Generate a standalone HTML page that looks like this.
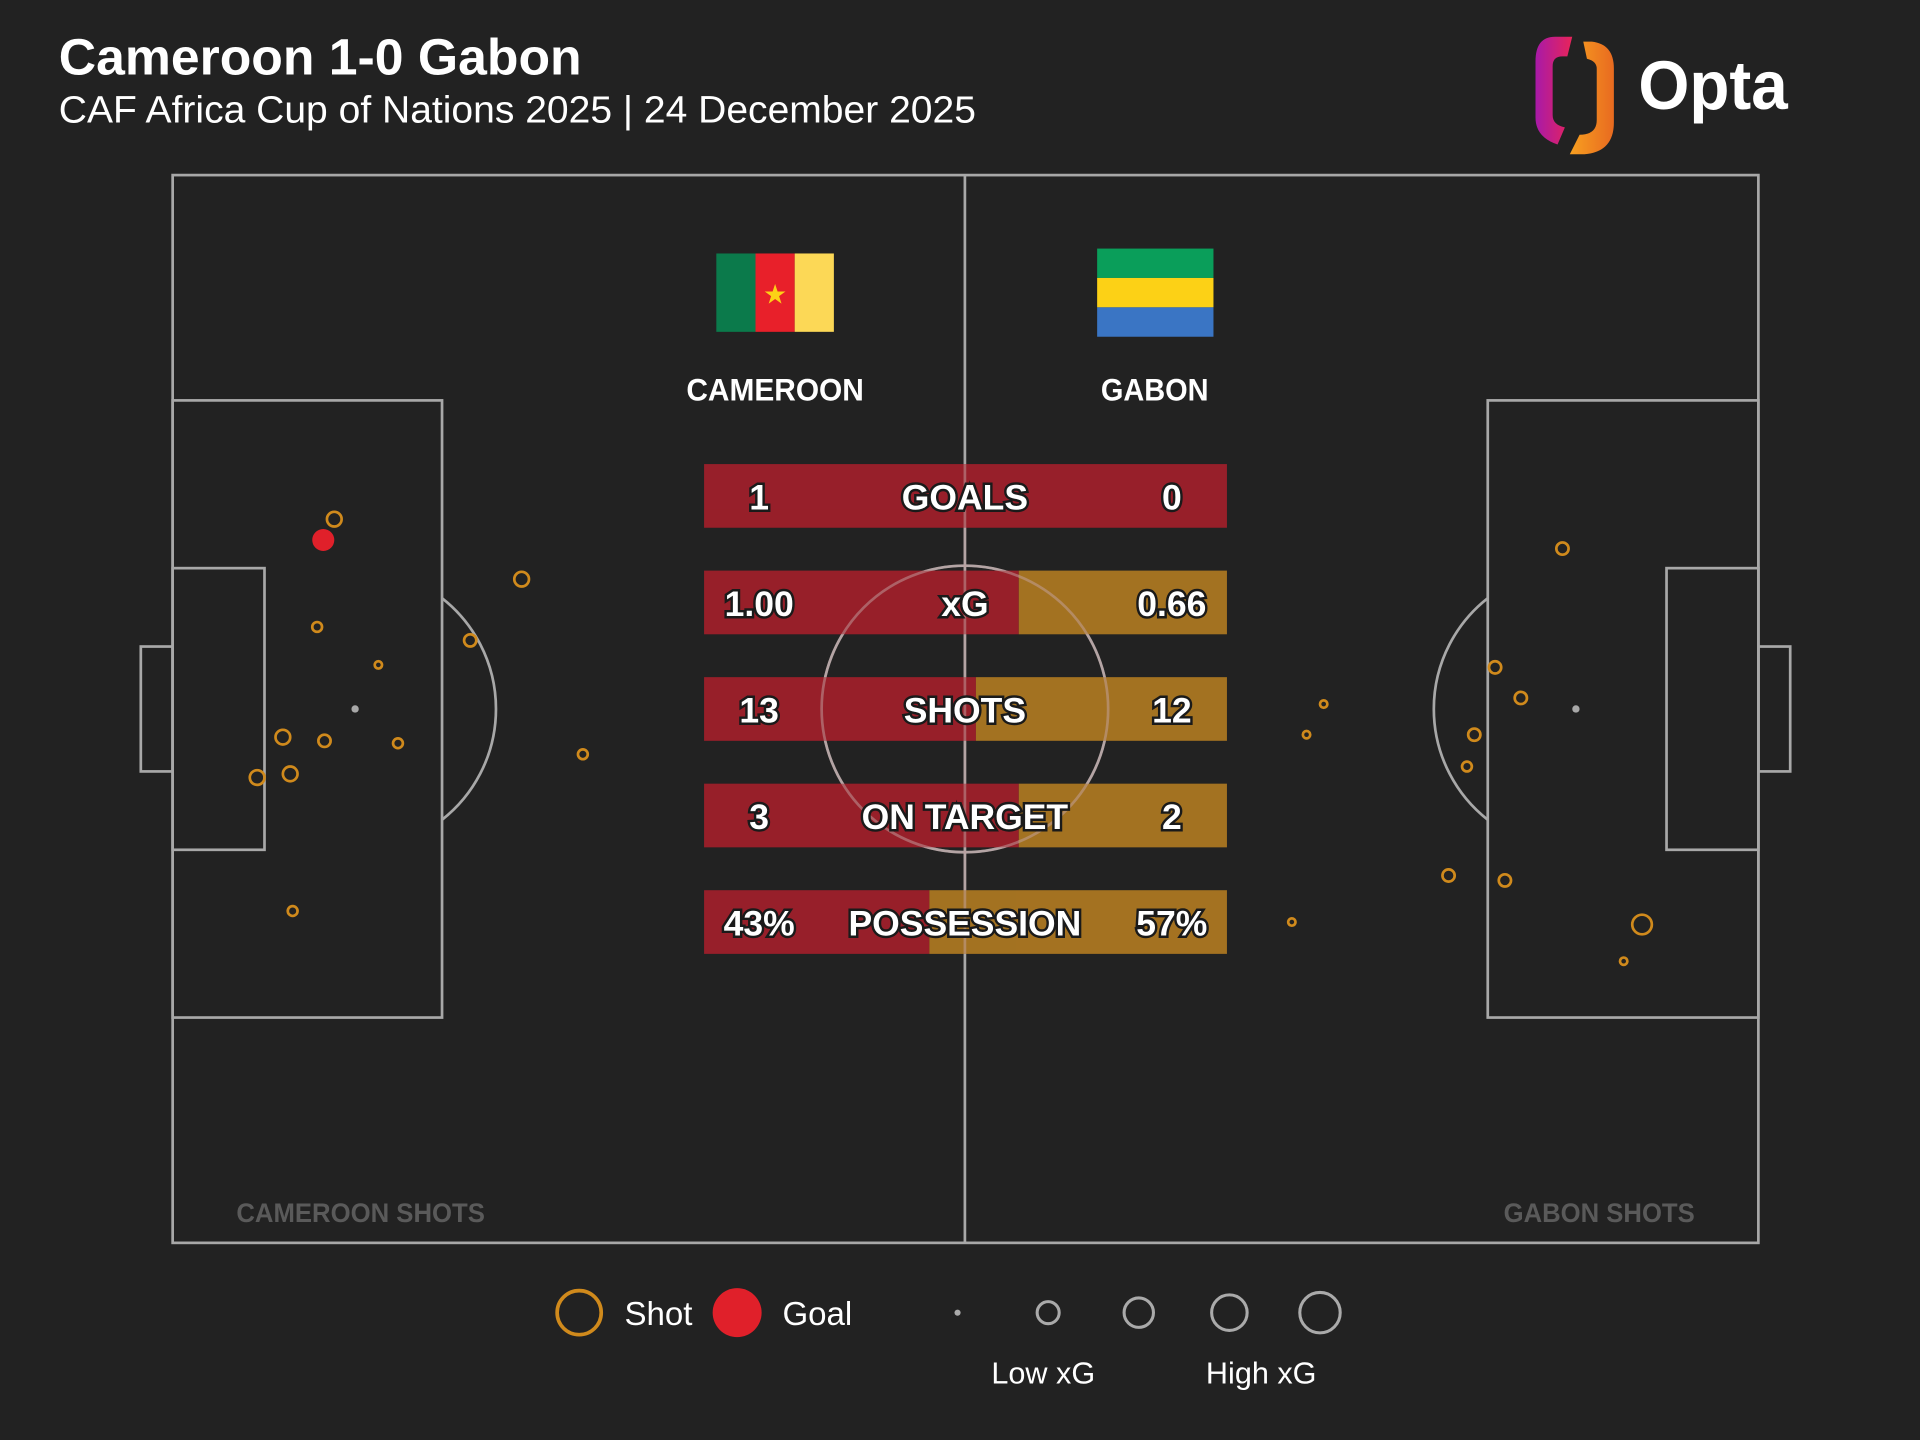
<!DOCTYPE html>
<html><head><meta charset="utf-8"><style>
html,body{margin:0;padding:0;background:#222222;}
svg{display:block}
text{font-family:"Liberation Sans",sans-serif;}
.st{font-size:29px;font-weight:bold;fill:#fff;stroke:#1a1a1a;stroke-width:4px;paint-order:stroke;text-anchor:middle;}
</style></head><body>
<svg width="1920" height="1440" viewBox="0 0 1568 1176" xmlns="http://www.w3.org/2000/svg">
<rect width="1568" height="1176" fill="#222222"/>
<text x="48" y="61" font-size="42" font-weight="bold" fill="#fff" textLength="427" lengthAdjust="spacingAndGlyphs">Cameroon 1-0 Gabon</text>
<text x="48" y="100" font-size="31" fill="#fff" textLength="749" lengthAdjust="spacingAndGlyphs">CAF Africa Cup of Nations 2025 | 24 December 2025</text>
<defs>
<linearGradient id="g1" x1="0" x2="1"><stop offset="0" stop-color="#a81aa8"/><stop offset="1" stop-color="#e8245a"/></linearGradient>
<linearGradient id="g2" x1="0" x2="1"><stop offset="0" stop-color="#f8a020"/><stop offset="1" stop-color="#e86a20"/></linearGradient>
</defs>
<path d="M1284 30 L1270 30 Q1254 30 1254 50 L1254 96 Q1254 112 1272 118 L1278 104 Q1268 102 1268 94 L1268 54 Q1268 46 1276 46 L1280 46 Z" fill="url(#g1)"/>
<path d="M1293 34 L1300 34 Q1318 36 1318 56 L1318 100 Q1318 124 1294 126 L1282 126 L1290 110 Q1304 110 1304 98 L1304 56 Q1304 50 1296 48 Z" fill="url(#g2)"/>
<text x="1338" y="89" font-size="56" font-weight="bold" fill="#fff" textLength="122" lengthAdjust="spacingAndGlyphs">Opta</text>
<g fill="none" stroke="#a8a8a8" stroke-width="2.2">
<rect x="141" y="143" width="1295" height="872"/>
<line x1="788" y1="143" x2="788" y2="1015"/>
<circle cx="788" cy="579" r="117"/>
<rect x="141" y="327" width="220" height="504"/>
<rect x="141" y="464" width="75" height="230"/>
<rect x="115" y="528" width="26" height="102"/>
<path d="M361 488.5 A115 115 0 0 1 361 669.5"/>
<rect x="1215" y="327" width="221" height="504"/>
<rect x="1361" y="464" width="75" height="230"/>
<rect x="1436" y="528" width="26" height="102"/>
<path d="M1215 488.5 A115 115 0 0 0 1215 669.5"/>
</g>
<circle cx="290" cy="579" r="3" fill="#a8a8a8"/>
<circle cx="1287" cy="579" r="3" fill="#a8a8a8"/>
<rect x="585" y="207" width="32" height="64" fill="#0b7a4b"/>
<rect x="617" y="207" width="32" height="64" fill="#e8202a"/>
<rect x="649" y="207" width="32" height="64" fill="#fcd856"/>
<text x="633" y="248" font-size="22" fill="#fcd116" text-anchor="middle">★</text>
<rect x="896" y="203" width="95" height="24" fill="#0a9e5a"/>
<rect x="896" y="227" width="95" height="24" fill="#fcd116"/>
<rect x="896" y="251" width="95" height="24" fill="#3a75c4"/>
<text x="633" y="327" font-size="26" font-weight="bold" fill="#fff" text-anchor="middle" textLength="145" lengthAdjust="spacingAndGlyphs">CAMEROON</text>
<text x="943" y="327" font-size="26" font-weight="bold" fill="#fff" text-anchor="middle" textLength="88" lengthAdjust="spacingAndGlyphs">GABON</text>
<g opacity="0.97">
<rect x="575" y="379" width="427" height="52" fill="#9b1f2a"/>
<rect x="575" y="466" width="257" height="52" fill="#9b1f2a"/><rect x="832" y="466" width="170" height="52" fill="#a87521"/>
<rect x="575" y="553" width="222" height="52" fill="#9b1f2a"/><rect x="797" y="553" width="205" height="52" fill="#a87521"/>
<rect x="575" y="640" width="257" height="52" fill="#9b1f2a"/><rect x="832" y="640" width="170" height="52" fill="#a87521"/>
<rect x="575" y="727" width="184" height="52" fill="#9b1f2a"/><rect x="759" y="727" width="243" height="52" fill="#a87521"/>
</g>
<g fill="none" stroke="#c0a0a0" stroke-opacity="0.5" stroke-width="2.2">
<line x1="788" y1="379" x2="788" y2="779"/>
<circle cx="788" cy="579" r="117"/>
</g>
<text class="st" x="620" y="416">1</text><text class="st" x="788" y="416">GOALS</text><text class="st" x="957" y="416">0</text>
<text class="st" x="620" y="503">1.00</text><text class="st" x="788" y="503">xG</text><text class="st" x="957" y="503">0.66</text>
<text class="st" x="620" y="590">13</text><text class="st" x="788" y="590">SHOTS</text><text class="st" x="957" y="590">12</text>
<text class="st" x="620" y="677">3</text><text class="st" x="788" y="677">ON TARGET</text><text class="st" x="957" y="677">2</text>
<text class="st" x="620" y="764">43%</text><text class="st" x="788" y="764">POSSESSION</text><text class="st" x="957" y="764">57%</text>
<g fill="none" stroke="#d08a1c" stroke-width="2.2">
<circle cx="273" cy="424" r="6"/><circle cx="426" cy="473" r="6"/><circle cx="259" cy="512" r="4"/>
<circle cx="384" cy="523" r="5"/><circle cx="309" cy="543" r="3"/><circle cx="231" cy="602" r="6"/>
<circle cx="265" cy="605" r="5"/><circle cx="325" cy="607" r="4"/><circle cx="210" cy="635" r="6"/>
<circle cx="237" cy="632" r="6"/><circle cx="476" cy="616" r="4"/><circle cx="239" cy="744" r="4"/>
<circle cx="1276" cy="448" r="5"/><circle cx="1221" cy="545" r="5"/><circle cx="1242" cy="570" r="5"/>
<circle cx="1081" cy="575" r="3"/><circle cx="1067" cy="600" r="3"/><circle cx="1204" cy="600" r="5"/>
<circle cx="1198" cy="626" r="4"/><circle cx="1183" cy="715" r="5"/><circle cx="1229" cy="719" r="5"/>
<circle cx="1341" cy="755" r="8"/><circle cx="1055" cy="753" r="3"/><circle cx="1326" cy="785" r="3"/>
</g>
<circle cx="264" cy="441" r="9" fill="#e0202a"/>
<text x="193" y="998" font-size="22" font-weight="bold" fill="#5a5a5a" textLength="203" lengthAdjust="spacingAndGlyphs">CAMEROON SHOTS</text>
<text x="1228" y="998" font-size="22" font-weight="bold" fill="#5a5a5a" textLength="156" lengthAdjust="spacingAndGlyphs">GABON SHOTS</text>
<circle cx="473" cy="1072" r="18" fill="none" stroke="#d08a1c" stroke-width="3"/>
<text x="510" y="1082" font-size="27" fill="#fff">Shot</text>
<circle cx="602" cy="1072" r="20" fill="#e0202a"/>
<text x="639" y="1082" font-size="27" fill="#fff">Goal</text>
<circle cx="782" cy="1072" r="2.5" fill="#aaa"/>
<g fill="none" stroke="#aaa" stroke-width="2.5">
<circle cx="856" cy="1072" r="9"/><circle cx="930" cy="1072" r="12"/><circle cx="1004" cy="1072" r="14.5"/><circle cx="1078" cy="1072" r="16.5"/>
</g>
<text x="852" y="1130" font-size="25" fill="#fff" text-anchor="middle">Low xG</text>
<text x="1030" y="1130" font-size="25" fill="#fff" text-anchor="middle">High xG</text>
</svg>
</body></html>
